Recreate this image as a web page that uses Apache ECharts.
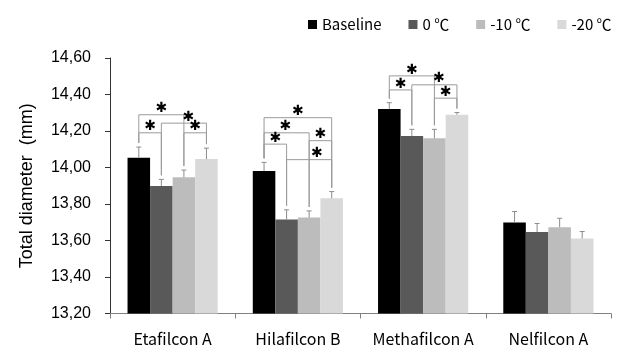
<!DOCTYPE html>
<html><head><meta charset="utf-8">
<script src="https://cdn.jsdelivr.net/npm/echarts@6/dist/echarts.min.js"></script>
<style>html,body{margin:0;padding:0;background:#fff}#c{width:624px;height:356px}</style>
</head><body><div id="c"></div>
<script>
var categories = ['Etafilcon A', 'Hilafilcon B', 'Methafilcon A', 'Nelfilcon A'];
var seriesNames = ['Baseline', '0 ℃', '-10 ℃', '-20 ℃'];
var baseline = [14.054, 13.981, 14.320, 13.699];
var zeroC    = [13.899, 13.715, 14.172, 13.646];
var minus10  = [13.946, 13.726, 14.160, 13.673];
var minus20  = [14.046, 13.831, 14.289, 13.611];
var errBaseline = [0.058, 0.047, 0.035, 0.060];
var errZeroC    = [0.036, 0.053, 0.037, 0.047];
var errMinus10  = [0.040, 0.036, 0.049, 0.049];
var errMinus20  = [0.060, 0.037, 0.012, 0.038];
var yTicks = [13.2, 13.4, 13.6, 13.8, 14.0, 14.2, 14.4, 14.6];
// significance brackets
var bracketCat   = [0, 0, 0, 0, 1, 1, 1, 1, 1, 2, 2, 2, 2];
var bracketFrom  = [0, 1, 0, 2, 0, 0, 2, 0, 1, 0, 1, 0, 2];
var bracketTo    = [2, 3, 1, 3, 3, 2, 3, 1, 3, 2, 3, 1, 3];
var bracketLevel = [14.289, 14.243, 14.190, 14.190, 14.273, 14.190, 14.147, 14.128, 14.043, 14.502, 14.453, 14.425, 14.380];
var starAt       = [0.5, 0.6, 0.5, 0.5, 0.5, 0.47, 0.5, 0.5, 0.67, 0.5, 0.6, 0.5, 0.5];

var values = [baseline, zeroC, minus10, minus20];
var errs = [errBaseline, errZeroC, errMinus10, errMinus20];
var colors = ['#000000', '#595959', '#bcbcbc', '#d9d9d9'];
var CAT_GAP = 0.28;

function barX(api, cat, idx) {
  var c = api.coord([cat, 0])[0];
  var band = api.size([1, 0])[0];
  var gw = band * (1 - CAT_GAP);
  var bw = gw / 4;
  return c - gw / 2 + bw * (idx + 0.5);
}

var series = seriesNames.map(function (n, i) {
  return {
    name: n, type: 'bar', data: values[i], barGap: '0%', barCategoryGap: (CAT_GAP * 100) + '%',
    itemStyle: { color: colors[i] }, z: 2
  };
});

var errData = [];
for (var s = 0; s < 4; s++) for (var k = 0; k < 4; k++) errData.push([k, values[s][k] + errs[s][k], s]);
series.push({
  type: 'custom', z: 3, silent: true,
  data: errData, encode: { x: 0, y: 1 },
  renderItem: function (params, api) {
    var cat = api.value(0), s = api.value(2);
    var x = barX(api, cat, s);
    var yTop = api.coord([cat, values[s][cat] + errs[s][cat]])[1];
    var yBar = api.coord([cat, values[s][cat]])[1];
    var st = { stroke: '#8c8c8c', lineWidth: 1 };
    return { type: 'group', children: [
      { type: 'line', shape: { x1: x, y1: yBar, x2: x, y2: yTop }, style: st },
      { type: 'line', shape: { x1: x - 2.5, y1: yTop, x2: x + 2.5, y2: yTop }, style: st }
    ]};
  }
});

var bData = bracketCat.map(function (c, i) { return [c, bracketLevel[i], i]; });
series.push({
  type: 'custom', z: 4, silent: true,
  data: bData, encode: { x: 0, y: 1 },
  renderItem: function (params, api) {
    var i = api.value(2), cat = bracketCat[i];
    var a = bracketFrom[i], b = bracketTo[i];
    var xa = barX(api, cat, a), xb = barX(api, cat, b);
    var yl = api.coord([cat, bracketLevel[i]])[1];
    var ya = api.coord([cat, values[a][cat] + errs[a][cat]])[1] - 4;
    var yb = api.coord([cat, values[b][cat] + errs[b][cat]])[1] - 4;
    var sx = xa + (xb - xa) * starAt[i];
    return { type: 'group', children: [
      { type: 'polyline', shape: { points: [[xa, ya], [xa, yl], [xb, yl], [xb, yb]] },
        style: { stroke: '#9a9a9a', lineWidth: 1, fill: null } },
      { type: 'text', style: { text: '✱', x: sx, y: yl - 6, align: 'center', verticalAlign: 'middle',
        font: 'bold 14px "DejaVu Sans"', fill: '#000' } }
    ]};
  }
});

var chart = echarts.init(document.getElementById('c'), null, { renderer: 'canvas' });
chart.setOption({
  animation: false,
  textStyle: { fontFamily: '"Noto Sans CJK KR", "Noto Sans", sans-serif' },
  legend: {
    data: seriesNames, top: 12, left: 303, itemWidth: 9, itemHeight: 9, itemGap: 27,
    icon: 'rect',
    textStyle: { fontSize: 15, color: '#000', fontFamily: '"Noto Sans CJK KR", sans-serif' }
  },
  grid: { left: 110, right: 13, top: 58, bottom: 42.5, containLabel: false },
  xAxis: {
    type: 'category', data: categories,
    axisLine: { lineStyle: { color: '#808080', width: 1 } },
    axisTick: { show: true, length: 5, lineStyle: { color: '#808080' } },
    axisLabel: { interval: 0, hideOverlap: false, margin: 17, fontSize: 16, color: '#000',
      fontFamily: '"Noto Sans CJK KR", sans-serif' }
  },
  yAxis: {
    type: 'value', min: yTicks[0], max: yTicks[yTicks.length - 1], interval: 0.2,
    name: 'Total diameter  (mm)', nameLocation: 'middle', nameGap: 74, nameRotate: 90,
    nameTextStyle: { fontSize: 18, color: '#000', fontFamily: '"Liberation Sans", Arial, sans-serif' },
    axisLine: { show: true, lineStyle: { color: '#333', width: 1 } },
    axisTick: { show: true, length: 5, inside: false, lineStyle: { color: '#333' } },
    splitLine: { show: false },
    axisLabel: { margin: 19, fontSize: 16, color: '#000', fontFamily: '"Liberation Sans", Arial, sans-serif',
      formatter: function (v) { return v.toFixed(2).replace('.', ','); } }
  },
  series: series
});
</script></body></html>
